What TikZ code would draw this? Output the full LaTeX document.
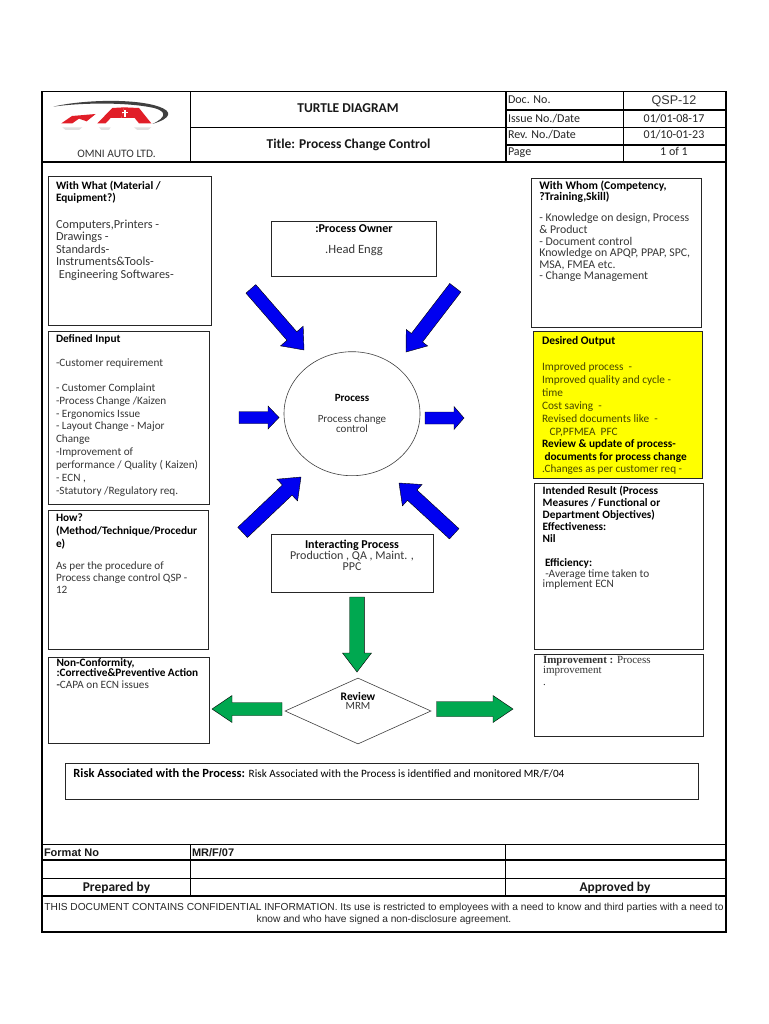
\documentclass[tikz,border=0pt]{standalone}
\usepackage{fontspec}
\usetikzlibrary{shapes.geometric}
\setmainfont{Carlito}
\newfontfamily\lib{Liberation Sans}
\newfontfamily\libs{Liberation Serif}
\definecolor{arrblue}{RGB}{0,0,240}
\definecolor{arrgreen}{RGB}{0,168,80}
\definecolor{dim}{RGB}{55,55,55}
\definecolor{olive}{RGB}{70,70,0}
\definecolor{hilite}{RGB}{255,255,0}
\definecolor{logored}{RGB}{225,30,40}
% tip x, tip y, angle, length, half shaft, half head, head length, colour
\newcommand{\blockarr}[8]{%
  \draw[fill=#8,draw=black,line width=0.4pt,shift={(#1,#2)},rotate=#3,x=1pt,y=1pt]
    (0,0) -- (-#7,#6) -- (-#7,#5) -- (-#4,#5) -- (-#4,-#5) -- (-#7,-#5) -- (-#7,-#6) -- cycle;}
\tikzset{
  frameline/.style={line width=1.6pt,black},
  gridline/.style={line width=1.3pt,black},
  boxed/.style={draw=black!85,line width=0.8pt,fill=white,rectangle,inner sep=0,outer sep=0,anchor=north west},
  txt/.style={inner sep=0,outer sep=0,anchor=north west,yshift=9pt,align=left,text=dim,execute at begin node={\rule{0pt}{9pt}}},
  ctr/.style={txt,anchor=north,align=center},
  head/.style={ctr,text=black!90,font=\fontsize{13.5}{14}\selectfont\bfseries},
  cell/.style={txt,text=black!85,font=\fontsize{12}{13}\selectfont},
  title/.style={txt,text=black,font=\fontsize{11.3}{12}\selectfont\bfseries},
  body/.style={txt,font=\fontsize{11.2}{12.9}\selectfont},
  bigbody/.style={txt,font=\fontsize{12.3}{12.6}\selectfont},
}
\begin{document}
\begin{tikzpicture}[x=1pt,y=-1pt]
\useasboundingbox (0,0) rectangle (768,1024);
\fill[white] (0,0) rectangle (768,1024);

% ---------- frame and header grid
\draw[frameline] (42,91.5) rectangle (726,931.7);
\draw[gridline] (190.5,91.5) -- (190.5,162);
\draw[gridline] (506,91.5) -- (506,162);
\draw[gridline] (623.5,91.5) -- (623.5,162);
\draw[gridline] (42,162) -- (726,162);
\draw[gridline] (190.5,127.8) -- (726,127.8);
\draw[gridline] (506,110) -- (726,110);
\draw[gridline] (506,145) -- (726,145);

% ---------- logo
\begin{scope}[shift={(44,94)},x=0.3333pt,y=-0.3333pt]
  \fill[black!12] (55,100) -- (115,100) -- (105,108) -- (65,108) -- cycle;
  \fill[black!12] (165,100) -- (200,100) -- (195,108) -- (172,108) -- cycle;
  \fill[black!12] (270,100) -- (322,100) -- (312,108) -- (280,108) -- cycle;
  \fill[black!75] (28,38) .. controls (110,18) and (270,12) .. (345,38) .. controls (385,52) and (385,72) .. (325,90)
     .. controls (368,70) and (368,52) .. (330,42) .. controls (250,24) and (110,26) .. (28,38) -- cycle;
  \fill[logored] (52,88) -- (84,66) -- (155,60) -- (128,82) -- (105,74) -- (85,88) -- cycle;
  \fill[logored] (160,88) -- (205,42) -- (240,40) -- (232,72) -- (200,72) -- (185,88) -- cycle;
  \fill[logored] (240,40) -- (285,42) -- (322,88) -- (285,88) -- (272,72) -- (232,72) -- cycle;
  \fill[white] (241,47) rectangle (245,68);
  \fill[white] (234,55) rectangle (252,58);
\end{scope}
\node[txt,text=black!80,font=\fontsize{11.4}{12}\selectfont,anchor=north] (omni) at (116.5,158) {OMNI AUTO LTD.};

% ---------- header text
\node[head] (turtle) at (348,113) {TURTLE DIAGRAM};
\node[head] (proctitle) at (348.5,148) {Title: Process Change Control};
\node[cell] (docno) at (508,104) {Doc. No.};
\node[cell] (issue) at (508,122.5) {Issue No./Date};
\node[cell] (rev) at (508,139) {Rev. No./Date};
\node[cell] (page) at (508,155.5) {Page};
\node[ctr,text=black!80,font=\lib\fontsize{12.6}{13}\selectfont] (qsp) at (674,104.5) {QSP-12};
\node[ctr,text=black!85,font=\fontsize{12}{13}\selectfont] (issueval) at (674,122.5) {01/01-08-17};
\node[ctr,text=black!85,font=\fontsize{12}{13}\selectfont] (revval) at (674,139) {01/10-01-23};
\node[ctr,text=black!85,font=\fontsize{12}{13}\selectfont] (pageval) at (674,156) {1 of 1};

% ---------- boxes
\node[boxed,minimum width=163.4pt,minimum height=149.7pt] (withwhat) at (48.3,176) {};
\node[boxed,minimum width=165pt,minimum height=55.7pt] (owner) at (271.7,221) {};
\node[boxed,minimum width=170.4pt,minimum height=149pt] (withwhom) at (531.3,178.3) {};
\node[boxed,minimum width=161pt,minimum height=173pt] (input) at (48.3,331) {};
\node[boxed,minimum width=160pt,minimum height=138.7pt] (how) at (48.3,510.3) {};
\node[boxed,minimum width=160.6pt,minimum height=86pt] (nonconf) at (48.8,657) {};
\node[boxed,minimum width=162pt,minimum height=58pt] (interact) at (271.3,534.3) {};
\node[boxed,fill=hilite,minimum width=169pt,minimum height=147pt] (output) at (533.7,331.3) {};
\node[boxed,minimum width=168.7pt,minimum height=165.3pt] (result) at (534.3,483.7) {};
\node[boxed,minimum width=168.7pt,minimum height=82pt] (improve) at (534.3,654) {};
\node[boxed,minimum width=632.5pt,minimum height=36pt] (risk) at (65.5,763) {};
\node[draw=black!75,line width=0.6pt,fill=white,ellipse,inner sep=0,minimum width=136pt,minimum height=124pt] (process) at (352,413.7) {};
\node[draw=black!75,line width=0.6pt,fill=white,diamond,aspect=2.2,inner sep=0,minimum width=146pt,minimum height=66pt] (review) at (358,711) {};

% ---------- blue arrows
\blockarr{304}{350}{-49}{81}{6.5}{15}{18.5}{arrblue}
\blockarr{406}{352}{232.5}{81}{7}{13.5}{18}{arrblue}
\blockarr{279}{417.5}{0}{40}{6}{11.5}{11}{arrblue}
\blockarr{464}{418}{0}{39}{6}{11.5}{10}{arrblue}
\blockarr{301}{477}{43.5}{80.5}{7}{15}{19}{arrblue}
\blockarr{399}{483}{137.4}{75}{7}{14.5}{18}{arrblue}

% ---------- green arrows
\blockarr{357}{672}{-90}{75}{7.3}{14.5}{19}{arrgreen}
\blockarr{212}{709}{180}{70}{6.5}{13.5}{20}{arrgreen}
\blockarr{513}{709}{0}{76.5}{7.5}{13.5}{20}{arrgreen}

% ---------- box texts
\node[title] (wwt) at (56,190) {With What (Material /\\Equipment?)};
\node[bigbody] (wwb) at (56,228.7) {Computers,Printers -\\Drawings -\\Standards-\\Instruments\&Tools-\\\ Engineering Softwares-};

\node[ctr,text=black,font=\fontsize{12}{12}\selectfont\bfseries] (ownert) at (354,233) {:Process Owner};
\node[ctr,font=\fontsize{12.6}{12}\selectfont] (ownerb) at (354,253) {.Head Engg};

\node[title,font=\fontsize{11.6}{11.5}\selectfont\bfseries] (wmt) at (539.3,189.8) {With Whom (Competency,\\?Training,Skill)};
\node[txt,font=\fontsize{11.8}{11.6}\selectfont] (wmb) at (539.3,222.7) {- Knowledge on design, Process\\\& Product\\- Document control\\Knowledge on APQP, PPAP, SPC,\\MSA, FMEA etc.\\- Change Management};

\node[title] (dit) at (56,342.7) {Defined Input};
\node[body] (dib1) at (56,366) {-Customer requirement};
\node[body] (dib2) at (56,392.5) {- Customer Complaint\\-Process Change /Kaizen\\- Ergonomics Issue\\- Layout Change - Major\\Change\\-Improvement of\\performance / Quality ( Kaizen)\\- ECN ,\\-Statutory /Regulatory req.};

\node[title,font=\fontsize{11.3}{13}\selectfont\bfseries] (howt) at (56,522.5) {How?\\(Method/Technique/Procedur\\e)};
\node[body,font=\fontsize{11.2}{12.2}\selectfont] (howb) at (56,570.5) {As per the procedure of\\Process change control QSP -\\12};

\node[title,font=\fontsize{11.3}{10}\selectfont\bfseries] (nct) at (56.5,668) {Non-Conformity,\\:Corrective\&Preventive Action};
\node[body] (ncb) at (56.5,688.7) {\textbf{-}CAPA on ECN issues};

\node[ctr,text=black,font=\fontsize{11}{11}\selectfont\bfseries] (proct) at (352,401.7) {Process};
\node[ctr,font=\fontsize{11}{9.5}\selectfont] (procb) at (352,423.5) {Process change\\control};

\node[ctr,text=black,font=\fontsize{12}{12}\selectfont\bfseries] (intt) at (352,548.5) {Interacting Process};
\node[ctr,font=\fontsize{12}{11}\selectfont] (intb) at (352,560) {Production , QA , Maint. ,\\PPC};

\node[ctr,text=black,font=\fontsize{11.5}{11}\selectfont\bfseries] (revt) at (358,700) {Review};
\node[ctr,font=\fontsize{11}{11}\selectfont] (revb) at (358,709.8) {MRM};

\node[txt,text=black,font=\fontsize{11.5}{12}\selectfont\bfseries] (dot) at (542,344) {Desired Output};
\node[txt,text=olive,font=\fontsize{11.3}{13}\selectfont] (dob1) at (542,372) {Improved process\ \ -\\Improved quality and cycle -\\time\\Cost saving\ \ -\\Revised documents like\ \ -\\\ \ \ CP,PFMEA\ \ PFC};
\node[txt,text=black,font=\fontsize{11.3}{13}\selectfont\bfseries] (dob2) at (542,448.2) {Review \& update of process-\\\ documents for process change};
\node[txt,text=olive,font=\fontsize{11.2}{12}\selectfont] (dob3) at (542,472.3) {.Changes as per customer req -};

\node[title] (irt) at (542.7,495.5) {Intended Result (Process\\Measures / Functional or\\Department Objectives)\\Effectiveness:\\Nil};
\node[title] (ire) at (545,566) {Efficiency:};
\node[txt,font=\fontsize{11.3}{10.5}\selectfont] (irb) at (542.7,578.5) {\ -Average time taken to\\implement ECN};

\node[txt,text=black!80,font=\libs\fontsize{11}{9.5}\selectfont] (impt) at (543,665) {\textbf{Improvement :} Process\\improvement};
\node[txt,text=black!80,font=\libs\fontsize{11}{9.5}\selectfont] (impd) at (543,685) {.};

\node[txt,text=black,font=\fontsize{12.5}{13}\selectfont\bfseries] (riskt) at (73.4,777.7) {Risk Associated with the Process: {\mdseries\fontsize{11.2}{13}\selectfont Risk Associated with the Process is identified and monitored MR/F/04}};

% ---------- bottom table
\draw[gridline] (42,844.3) -- (726,844.3);
\draw[gridline] (42,860) -- (726,860);
\draw[gridline] (42,878.3) -- (726,878.3);
\draw[gridline] (42,896) -- (726,896);
\draw[gridline] (190.5,844.3) -- (190.5,896);
\draw[gridline] (505.5,844.3) -- (505.5,896);
\node[txt,text=black!90,font=\lib\fontsize{11}{12}\selectfont\bfseries] (fmt) at (44,856.7) {Format No};
\node[txt,text=black!90,font=\lib\fontsize{11}{12}\selectfont\bfseries] (fmtv) at (192,856.7) {MR/F/07};
\node[ctr,text=black!90,font=\fontsize{13.4}{14}\selectfont\bfseries] (prep) at (116.5,890.7) {Prepared by};
\node[ctr,text=black!90,font=\fontsize{13.4}{14}\selectfont\bfseries] (appr) at (615,890.7) {Approved by};
\node[ctr,text=black!85,font=\lib\fontsize{10.18}{12}\selectfont] (conf) at (384,912.5) {THIS DOCUMENT CONTAINS CONFIDENTIAL INFORMATION. Its use is restricted to employees with a need to know and third parties with a need to\\know and who have signed a non-disclosure agreement.};
\end{tikzpicture}
\end{document}
